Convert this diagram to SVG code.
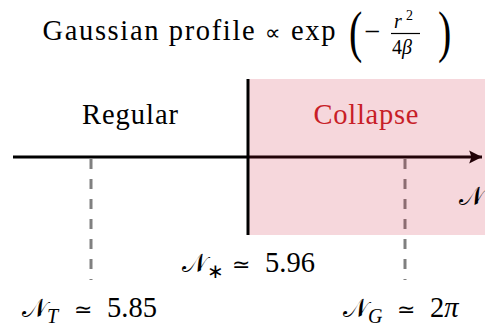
<svg xmlns="http://www.w3.org/2000/svg" width="485" height="331" viewBox="0 0 485 331">
<defs>
<style>
.dash{stroke:#808080;stroke-width:3;stroke-dasharray:10 10;fill:none}
.bar{stroke:#000;stroke-width:3}
</style>
<marker id="ah" markerUnits="userSpaceOnUse" markerWidth="14" markerHeight="14" viewBox="0 0 12 12" refX="11" refY="6" orient="auto">
<path d="M0,0.5 L11,6 L0,11.5 L2,6 Z" fill="#000"/>
</marker>
</defs>
<g id="title">
<text font-family="Liberation Serif" font-size="28.5" x="42.5" y="40" textLength="293" lengthAdjust="spacing">Gaussian profile <tspan font-family="DejaVu Sans" font-size="22">∝</tspan> exp</text>
<text font-family="Liberation Serif" font-size="40" transform="translate(349,51) scale(1,1.4)">(</text>
<text font-family="Liberation Serif" font-size="28.5" x="364" y="41">−</text>
<text font-family="Liberation Serif" font-size="20" font-style="italic" x="394" y="28">r</text>
<text font-family="Liberation Serif" font-size="14" x="406" y="20">2</text>
<line x1="391" y1="33.5" x2="420" y2="33.5" stroke="#000" stroke-width="1.2"/>
<text font-family="Liberation Serif" font-size="20" x="392" y="54">4<tspan font-style="italic">β</tspan></text>
<text font-family="Liberation Serif" font-size="40" transform="translate(438,51) scale(1,1.4)">)</text>
</g>
<g id="connectors">
<line class="bar" x1="13" y1="157" x2="482" y2="157" marker-end="url(#ah)"/>
<line class="dash" x1="91" y1="159" x2="91" y2="280"/>
<line class="dash" x1="405" y1="159" x2="405" y2="280"/>
</g>
<g id="collapse-region">
<rect x="249" y="79" width="236" height="156" fill="#c8102e" fill-opacity="0.17"/>
<text font-family="Liberation Serif" font-size="28.5" fill="#c81e28" x="366" y="124" text-anchor="middle" textLength="105">Collapse</text>
</g>
<g id="regular-region">
<text font-family="Liberation Serif" font-size="28.5" x="130" y="124" text-anchor="middle" textLength="96">Regular</text>
</g>
<g id="threshold">
<line class="bar" x1="248" y1="79" x2="248" y2="235"/>
</g>
<g id="axis-label">
<text font-family="DejaVu Sans" font-size="26" x="459" y="205">𝒩</text>
</g>
<g id="n-star">
<text font-family="Liberation Serif" font-size="28.5" x="182" y="272"><tspan font-family="DejaVu Sans" font-size="26">𝒩</tspan><tspan font-family="Liberation Serif" font-size="20" dy="6">∗</tspan><tspan font-family="DejaVu Sans" font-size="22" x="232" dy="-6">≃</tspan><tspan font-family="Liberation Serif" x="265">5.96</tspan></text>
</g>
<g id="n-t">
<text font-family="Liberation Serif" font-size="28.5" x="22" y="317"><tspan font-family="DejaVu Sans" font-size="26">𝒩</tspan><tspan font-family="Liberation Serif" font-size="20" font-style="italic" dy="6">T</tspan><tspan font-family="DejaVu Sans" font-size="22" x="74" dy="-6">≃</tspan><tspan font-family="Liberation Serif" x="107">5.85</tspan></text>
</g>
<g id="n-g">
<text font-family="Liberation Serif" font-size="28.5" x="343" y="317"><tspan font-family="DejaVu Sans" font-size="26">𝒩</tspan><tspan font-family="Liberation Serif" font-size="20" font-style="italic" dy="6">G</tspan><tspan font-family="DejaVu Sans" font-size="22" x="397" dy="-6">≃</tspan><tspan font-family="Liberation Serif" x="430">2<tspan font-style="italic">π</tspan></tspan></text>
</g>
</svg>
